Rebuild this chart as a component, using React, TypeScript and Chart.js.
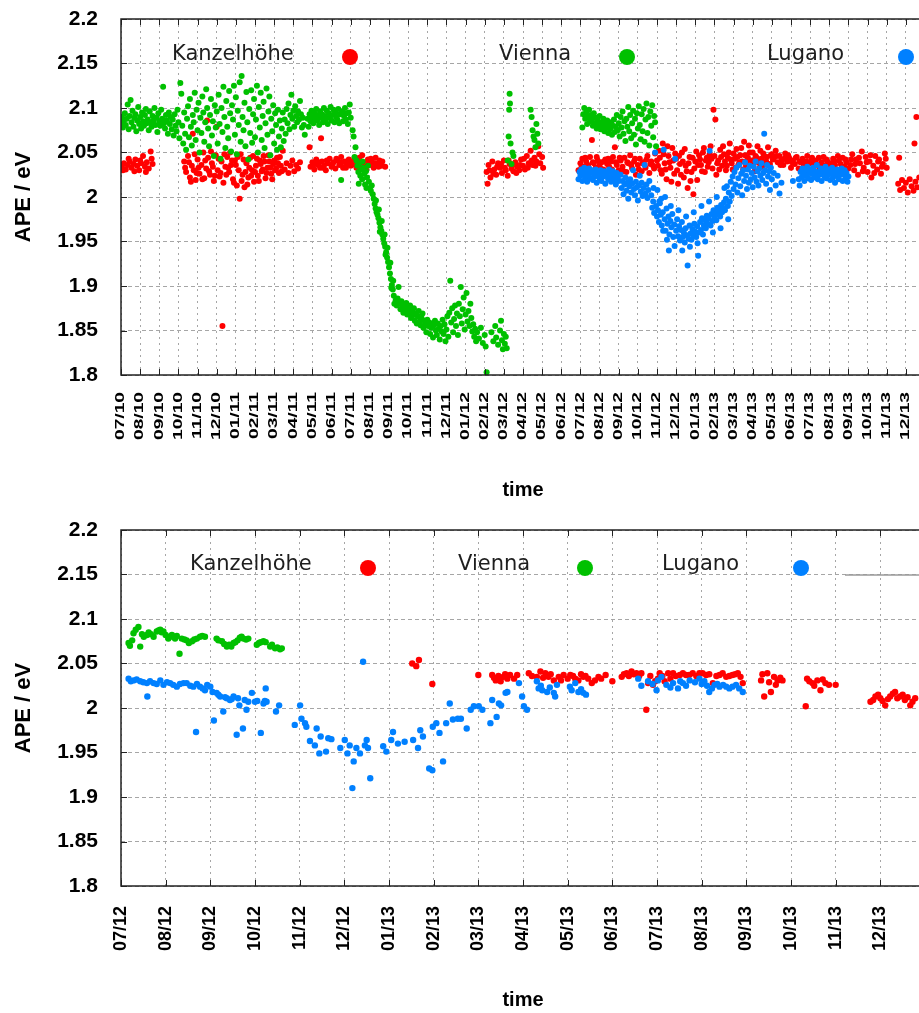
import React, { useEffect, useRef } from 'react';
import { Chart, registerables } from 'chart.js';

Chart.register(...registerables);

type Pt = [number, number];

// Month tick labels; x values are months counted from 07/10.
const monthLabels = [
  '07/10', '08/10', '09/10', '10/10', '11/10', '12/10',
  '01/11', '02/11', '03/11', '04/11', '05/11', '06/11', '07/11', '08/11', '09/11', '10/11', '11/11', '12/11',
  '01/12', '02/12', '03/12', '04/12', '05/12', '06/12', '07/12', '08/12', '09/12', '10/12', '11/12', '12/12',
  '01/13', '02/13', '03/13', '04/13', '05/13', '06/13', '07/13', '08/13', '09/13', '10/13', '11/13', '12/13',
];

const stationNames = ['Kanzelhöhe', 'Vienna', 'Lugano'];
const stationColors = ['#ff0000', '#00c000', '#0080ff'];

// Full record 07/10 – 12/13
const kanzelhoeheFull: Pt[] = [
  [0.05,2.034],[0.1,2.030],[0.15,2.038],[0.25,2.031],[0.35,2.036],[0.4,2.043],[0.45,2.040],[0.55,2.033],[0.65,2.037],[0.7,2.029],[0.75,2.042],[0.85,2.035],[0.95,2.030],[1.0,2.041],[1.05,2.038],[1.15,2.046],[1.25,2.034],[1.3,2.028],[1.35,2.039],[1.45,2.032],[1.55,2.051],[1.6,2.043],[1.65,2.037],
  [3.3,2.040],[3.35,2.033],[3.4,2.028],[3.5,2.046],[3.55,2.039],[3.6,2.022],[3.65,2.017],[3.7,2.035],[3.75,2.071],[3.8,2.030],[3.85,2.048],[3.9,2.019],[3.95,2.027],[4.0,2.042],[4.05,2.033],[4.1,2.026],[4.2,2.036],[4.25,2.020],[4.3,2.050],[4.35,2.021],[4.4,2.041],[4.45,2.032],[4.5,2.086],[4.55,2.044],[4.6,2.029],[4.65,2.025],[4.7,2.051],[4.75,2.038],[4.8,2.034],[4.85,2.018],[4.9,2.024],[4.95,2.047],[5.0,2.079],[5.05,2.030],[5.1,2.043],[5.15,2.023],[5.2,2.027],[5.25,2.040],[5.3,1.855],[5.35,2.016],[5.4,2.048],[5.45,2.034],[5.5,2.025],
  [5.55,2.045],[5.6,2.033],[5.65,2.028],[5.7,2.050],[5.75,2.036],[5.8,2.041],[5.85,2.020],[5.9,2.016],[5.95,2.041],[6.0,2.036],[6.05,2.013],[6.1,2.045],[6.15,2.030],[6.2,1.998],[6.25,2.048],[6.3,2.018],[6.35,2.025],[6.4,2.042],[6.45,2.011],[6.5,2.028],[6.55,2.038],[6.6,2.014],[6.65,2.022],[6.7,2.033],[6.75,2.044],[6.8,2.024],[6.85,2.030],[6.9,2.046],[6.95,2.017],
  [7.0,2.028],[7.05,2.035],[7.1,2.043],[7.15,2.024],[7.2,2.018],[7.25,2.041],[7.3,2.037],[7.35,2.029],[7.4,2.031],[7.45,2.046],[7.5,2.040],[7.55,2.021],[7.6,2.027],[7.65,2.033],[7.7,2.047],[7.75,2.040],[7.8,2.033],[7.85,2.026],[7.9,2.020],[7.95,2.037],[8.0,2.041],[8.05,2.030],[8.1,2.032],[8.15,2.044],[8.2,2.038],[8.25,2.027],[8.3,2.045],[8.35,2.035],[8.4,2.029],[8.45,2.052],
  [8.55,2.031],[8.65,2.038],[8.75,2.027],[8.85,2.035],[8.95,2.041],[9.05,2.029],[9.15,2.036],[9.25,2.032],[9.35,2.039],
  [9.85,2.056],[9.9,2.034],[10.0,2.039],[10.05,2.036],[10.1,2.031],[10.2,2.042],[10.25,2.040],[10.3,2.036],[10.4,2.033],[10.45,2.066],[10.5,2.040],[10.55,2.033],[10.6,2.035],[10.7,2.030],[10.75,2.041],[10.8,2.038],[10.9,2.043],[11.0,2.034],[11.05,2.037],[11.1,2.039],[11.2,2.032],[11.25,2.043],[11.3,2.041],[11.4,2.036],[11.5,2.045],[11.55,2.039],[11.6,2.033],[11.7,2.040],[11.75,2.033],[11.8,2.037],[11.9,2.042],[12.0,2.035],
  [12.05,2.040],[12.1,2.039],[12.2,2.044],[12.25,2.036],[12.3,2.033],[12.4,2.041],[12.45,2.044],[12.5,2.036],[12.6,2.047],[12.65,2.035],[12.7,2.038],[12.8,2.031],[12.85,2.039],[12.9,2.042],[13.0,2.036],[13.05,2.043],[13.1,2.040],[13.2,2.033],[13.25,2.038],[13.3,2.044],[13.4,2.037],[13.45,2.034],[13.5,2.041],[13.6,2.035],[13.65,2.040],[13.8,2.034],
  [19.1,2.028],[19.15,2.015],[19.2,2.036],[19.25,2.030],[19.3,2.022],[19.4,2.040],[19.45,2.026],[19.5,2.031],[19.6,2.025],[19.65,2.034],[19.7,2.038],[19.8,2.033],[19.85,2.037],[19.9,2.027],[20.0,2.041],[20.05,2.033],[20.1,2.030],[20.2,2.024],[20.25,2.041],[20.3,2.037],[20.4,2.032],[20.45,2.036],[20.5,2.029],[20.6,2.039],[20.65,2.027],[20.7,2.034],[20.8,2.030],[20.85,2.036],[20.9,2.042],[21.0,2.035],[21.05,2.043],[21.1,2.031],[21.2,2.046],[21.25,2.033],[21.3,2.038],[21.4,2.052],[21.45,2.041],[21.5,2.036],[21.6,2.044],[21.65,2.035],[21.7,2.040],[21.8,2.057],[21.85,2.048],[21.9,2.038],[22.0,2.045],[22.05,2.033],
  [23.9,2.030],[24.0,2.038],[24.05,2.033],[24.1,2.043],[24.2,2.034],[24.25,2.044],[24.3,2.040],[24.4,2.036],[24.45,2.032],[24.5,2.045],[24.6,2.064],[24.65,2.039],[24.7,2.038],[24.8,2.033],[24.85,2.045],[24.9,2.041],[25.0,2.036],[25.05,2.032],[25.1,2.039],[25.2,2.031],[25.25,2.040],[25.3,2.042],[25.4,2.037],[25.45,2.043],[25.5,2.034],[25.6,2.040],[25.65,2.031],[25.7,2.045],[25.8,2.056],[25.85,2.039],[25.9,2.036],[26.0,2.030],[26.05,2.044],[26.1,2.041],[26.2,2.034],[26.25,2.029],[26.3,2.044],[26.4,2.028],[26.45,2.039],[26.5,2.038],[26.6,2.047],[26.65,2.036],[26.7,2.032],[26.8,2.040],[26.85,2.043],[26.9,2.025],[27.0,2.036],[27.05,2.031],[27.1,2.043],[27.2,2.029],[27.25,2.038],[27.3,2.039],[27.4,2.033],[27.45,2.042],[27.5,2.046],[27.6,2.027],[27.65,2.037],[27.7,2.040],[27.8,2.035],[27.85,2.032],[27.9,2.049],
  [28.0,2.041],[28.05,2.035],[28.1,2.052],[28.15,2.044],[28.2,2.030],[28.25,2.026],[28.3,2.060],[28.35,2.048],[28.4,2.038],[28.45,2.031],[28.5,2.020],[28.55,2.057],[28.6,2.046],[28.65,2.039],[28.7,2.033],[28.75,2.017],[28.8,2.055],[28.85,2.041],[28.9,2.026],[28.95,2.049],[29.0,2.043],[29.05,2.030],[29.1,2.015],[29.15,2.046],[29.2,2.037],[29.25,2.025],[29.3,2.050],[29.35,2.040],[29.4,2.022],[29.45,2.054],[29.5,2.035],[29.55,2.029],[29.6,2.010],[29.65,2.038],[29.7,2.045],[29.75,2.018],[29.8,2.028],[29.85,2.044],[29.9,2.003],[29.95,2.032],[30.0,2.040],[30.05,2.051],[30.1,2.019],[30.15,2.036],[30.2,2.047],
  [30.25,2.042],[30.3,2.036],[30.35,2.029],[30.4,2.050],[30.45,2.055],[30.5,2.028],[30.55,2.041],[30.6,2.044],[30.65,2.034],[30.7,2.039],[30.75,2.048],[30.8,2.057],[30.85,2.043],[30.9,2.032],[30.95,2.098],[31.0,2.046],[31.05,2.087],[31.1,2.025],[31.15,2.038],[31.2,2.041],[31.25,2.031],[31.3,2.053],[31.35,2.045],[31.4,2.035],[31.45,2.057],[31.5,2.048],[31.55,2.040],[31.6,2.030],[31.65,2.035],[31.7,2.044],[31.75,2.050],[31.8,2.060],[31.85,2.042],[31.9,2.038],[31.95,2.031],[32.0,2.049],
  [32.05,2.043],[32.1,2.033],[32.15,2.054],[32.2,2.045],[32.25,2.036],[32.3,2.039],[32.35,2.047],[32.4,2.055],[32.45,2.040],[32.5,2.031],[32.55,2.062],[32.6,2.047],[32.65,2.035],[32.7,2.041],[32.75,2.044],[32.8,2.058],[32.85,2.050],[32.9,2.036],[32.95,2.041],[33.0,2.050],[33.05,2.038],[33.1,2.029],[33.15,2.046],[33.2,2.044],[33.25,2.057],[33.3,2.039],[33.35,2.033],[33.4,2.052],[33.45,2.043],[33.5,2.034],[33.55,2.049],[33.6,2.046],[33.65,2.038],[33.7,2.040],[33.75,2.045],[33.8,2.056],[33.85,2.035],[33.9,2.037],[33.95,2.047],
  [34.0,2.048],[34.05,2.042],[34.1,2.043],[34.2,2.052],[34.25,2.046],[34.3,2.039],[34.4,2.046],[34.45,2.036],[34.5,2.041],[34.6,2.036],[34.65,2.043],[34.7,2.049],[34.8,2.040],[34.85,2.047],[34.9,2.044],[35.0,2.033],[35.05,2.039],[35.1,2.041],[35.2,2.037],[35.25,2.044],[35.3,2.045],[35.4,2.032],[35.45,2.040],[35.5,2.039],[35.6,2.043],[35.65,2.037],[35.7,2.035],[35.8,2.040],[35.85,2.046],[35.9,2.030],[36.0,2.038],[36.05,2.041],[36.1,2.044],[36.2,2.034],[36.25,2.039],[36.3,2.041],[36.4,2.036],[36.45,2.044],[36.5,2.031],[36.6,2.039],[36.65,2.034],[36.7,2.045],[36.8,2.035],[36.85,2.042],[36.9,2.040],[37.0,2.033],[37.05,2.037],[37.1,2.038],[37.2,2.043],[37.25,2.040],[37.3,2.036],[37.4,2.030],[37.45,2.046],[37.5,2.041],[37.6,2.037],[37.65,2.033],[37.7,2.044],[37.8,2.034],[37.85,2.042],[37.9,2.039],[38.0,2.032],
  [38.1,2.036],[38.15,2.042],[38.2,2.048],[38.3,2.030],[38.35,2.037],[38.4,2.042],[38.5,2.025],[38.55,2.044],[38.6,2.038],[38.7,2.051],[38.75,2.029],[38.8,2.033],[38.9,2.045],[38.95,2.039],[39.0,2.028],[39.1,2.040],[39.15,2.047],[39.2,2.022],[39.3,2.035],[39.35,2.027],[39.4,2.046],[39.5,2.031],[39.55,2.040],[39.6,2.042],[39.7,2.026],[39.75,2.034],[39.8,2.037],[39.9,2.049],[39.95,2.043],[40.0,2.033],
  [40.6,2.015],[40.65,2.044],[40.7,2.008],[40.8,2.019],[40.9,2.010],[41.0,2.016],[41.1,2.005],[41.2,2.020],[41.3,2.012],[41.4,2.007],[41.45,2.060],[41.5,2.017],[41.55,2.090],[41.6,2.011],[41.7,2.022],
];

const viennaFull: Pt[] = [
  [0.0,2.083],[0.05,2.090],[0.1,2.078],[0.15,2.086],[0.2,2.094],[0.25,2.081],[0.3,2.088],[0.35,2.104],[0.4,2.076],[0.45,2.091],[0.5,2.109],[0.55,2.084],[0.6,2.097],[0.65,2.079],[0.7,2.089],[0.75,2.093],[0.8,2.074],[0.85,2.086],[0.9,2.101],[0.95,2.082],[1.0,2.090],[1.05,2.077],[1.1,2.095],[1.15,2.085],[1.2,2.080],[1.25,2.092],[1.3,2.099],[1.35,2.083],[1.4,2.087],[1.45,2.075],[1.5,2.096],[1.55,2.084],[1.6,2.079],[1.65,2.091],[1.7,2.086],[1.75,2.100],[1.8,2.081],[1.85,2.089],[1.9,2.073],[1.95,2.094],[2.0,2.085],[2.05,2.080],[2.1,2.098],[2.15,2.088],[2.2,2.124],[2.25,2.083],[2.3,2.077],[2.35,2.092],[2.4,2.086],[2.45,2.071],[2.5,2.095],[2.55,2.082],[2.6,2.090],[2.65,2.076],[2.7,2.087],[2.75,2.069],[2.8,2.093],[2.85,2.080],[2.9,2.074],[2.95,2.098],[3.0,2.084],[3.05,2.066],[3.1,2.128],[3.15,2.116],
  [3.2,2.080],[3.25,2.060],[3.3,2.095],[3.35,2.071],[3.4,2.053],[3.45,2.088],[3.5,2.102],[3.55,2.067],[3.6,2.110],[3.65,2.079],[3.7,2.058],[3.75,2.092],[3.8,2.084],[3.85,2.117],[3.9,2.064],[3.95,2.098],[4.0,2.075],[4.05,2.106],[4.1,2.050],[4.15,2.089],[4.2,2.072],[4.25,2.113],[4.3,2.095],[4.35,2.062],[4.4,2.084],[4.45,2.121],[4.5,2.100],[4.55,2.077],[4.6,2.057],[4.65,2.092],[4.7,2.110],[4.75,2.069],[4.8,2.085],[4.85,2.046],[4.9,2.103],[4.95,2.078],
  [5.0,2.096],[5.05,2.060],[5.1,2.115],[5.15,2.082],[5.2,2.043],[5.25,2.100],[5.3,2.073],[5.35,2.124],[5.4,2.090],[5.45,2.055],[5.5,2.108],[5.55,2.079],[5.6,2.066],[5.65,2.119],[5.7,2.094],[5.75,2.051],[5.8,2.103],[5.85,2.087],[5.9,2.125],[5.95,2.070],[6.0,2.112],[6.05,2.048],[6.1,2.097],[6.15,2.081],[6.2,2.129],[6.25,2.062],[6.3,2.136],[6.35,2.090],[6.4,2.075],[6.45,2.106],[6.5,2.057],[6.55,2.118],[6.6,2.084],[6.65,2.042],[6.7,2.099],[6.75,2.072],[6.8,2.120],[6.85,2.061],[6.9,2.093],[6.95,2.110],
  [7.0,2.067],[7.05,2.087],[7.1,2.125],[7.15,2.050],[7.2,2.101],[7.25,2.078],[7.3,2.117],[7.35,2.064],[7.4,2.091],[7.45,2.107],[7.5,2.055],[7.55,2.083],[7.6,2.122],[7.65,2.070],[7.7,2.096],[7.75,2.113],[7.8,2.047],[7.85,2.088],[7.9,2.074],[7.95,2.103],[8.0,2.060],[8.05,2.094],[8.1,2.081],[8.15,2.053],[8.2,2.098],[8.25,2.068],[8.3,2.086],[8.35,2.056],[8.4,2.077],[8.45,2.095],[8.5,2.063],[8.55,2.087],[8.6,2.071],[8.65,2.099],
  [8.7,2.083],[8.75,2.105],[8.8,2.076],[8.85,2.092],[8.9,2.115],[8.95,2.088],[9.0,2.097],[9.05,2.079],[9.1,2.102],[9.15,2.091],[9.2,2.084],[9.25,2.096],[9.3,2.087],[9.35,2.108],[9.4,2.093],[9.45,2.078],[9.5,2.089],[9.55,2.081],[9.6,2.070],
  [9.75,2.088],[9.8,2.079],[9.85,2.093],[9.9,2.085],[9.95,2.097],[10.0,2.090],[10.05,2.083],[10.1,2.094],[10.15,2.088],[10.2,2.099],[10.25,2.086],[10.3,2.092],[10.35,2.081],[10.4,2.096],[10.45,2.089],[10.5,2.093],[10.55,2.084],[10.6,2.100],[10.65,2.091],[10.7,2.087],[10.75,2.097],[10.8,2.082],[10.85,2.094],[10.9,2.089],[10.95,2.101],[11.0,2.086],[11.05,2.092],[11.1,2.098],[11.15,2.084],[11.2,2.095],[11.25,2.090],[11.3,2.087],[11.35,2.099],[11.4,2.083],[11.45,2.093],[11.5,2.019],[11.55,2.096],[11.6,2.085],[11.65,2.091],[11.7,2.100],[11.75,2.087],[11.8,2.094],[11.85,2.082],[11.9,2.095],[11.95,2.104],[12.0,2.089],
  [12.1,2.075],[12.15,2.068],[12.2,2.045],[12.25,2.056],[12.3,2.041],[12.35,2.035],[12.4,2.028],[12.42,2.015],[12.45,2.038],[12.5,2.024],[12.55,2.031],[12.6,2.020],[12.62,2.040],[12.65,2.033],[12.7,2.026],[12.75,2.014],[12.8,2.029],[12.82,2.010],[12.85,2.022],[12.9,2.035],[12.95,2.017],[13.0,2.010],[13.05,2.007],[13.1,2.013],[13.15,2.003],[13.2,1.998],
  [13.25,1.992],[13.3,1.987],[13.32,1.996],[13.35,1.983],[13.4,1.980],[13.45,1.976],[13.47,1.986],[13.5,1.971],[13.52,1.961],[13.55,1.966],[13.6,1.962],[13.62,1.973],[13.65,1.958],[13.7,1.953],[13.75,1.948],[13.77,1.958],[13.8,1.944],[13.82,1.935],[13.85,1.938],[13.9,1.932],[13.92,1.943],[13.95,1.927],[14.0,1.921],[14.05,1.914],[14.07,1.926],[14.1,1.908],[14.12,1.898],[14.15,1.901],[14.2,1.896],[14.22,1.906],[14.25,1.889],[14.28,1.880],
  [14.35,1.884],[14.4,1.878],[14.45,1.886],[14.5,1.899],[14.55,1.880],[14.6,1.874],[14.65,1.883],[14.7,1.877],[14.75,1.870],[14.8,1.879],[14.85,1.873],[14.9,1.881],[14.95,1.868],[15.0,1.875],[15.05,1.870],[15.1,1.878],[15.15,1.864],[15.2,1.872],[15.25,1.867],[15.3,1.875],[15.35,1.861],[15.4,1.869],[15.45,1.858],[15.5,1.866],[15.55,1.872],[15.6,1.860],[15.65,1.856],[15.7,1.864],[15.75,1.869],[15.8,1.853],[15.85,1.861],[15.9,1.857],[15.95,1.848],[16.0,1.862],[16.05,1.855],[16.1,1.859],[16.15,1.846],[16.2,1.853],[16.25,1.858],[16.3,1.842],
  [16.35,1.856],[16.4,1.861],[16.45,1.850],[16.5,1.845],[16.55,1.858],[16.6,1.852],[16.65,1.840],[16.7,1.855],[16.75,1.849],[16.8,1.862],[16.85,1.846],[16.9,1.857],[16.95,1.838],[17.0,1.851],[17.05,1.866],[17.1,1.843],[17.15,1.870],[17.2,1.906],[17.25,1.859],[17.3,1.875],[17.35,1.848],[17.4,1.863],[17.45,1.878],[17.5,1.855],[17.55,1.869],[17.6,1.845],
  [17.65,1.880],[17.7,1.866],[17.75,1.899],[17.8,1.858],[17.85,1.874],[17.9,1.887],[17.95,1.851],[18.0,1.868],[18.05,1.892],[18.1,1.860],[18.15,1.872],[18.2,1.855],[18.25,1.880],[18.3,1.864],[18.35,1.849],[18.4,1.857],[18.45,1.843],[18.5,1.852],[18.55,1.838],[18.6,1.848],[18.7,1.841],[18.8,1.853],[18.9,1.836],[19.0,1.845],[19.05,1.832],[19.1,1.803],[19.35,1.848],[19.45,1.838],[19.55,1.855],[19.6,1.842],[19.7,1.834],[19.8,1.850],[19.85,1.861],[19.9,1.839],[19.95,1.829],[20.0,1.846],[20.05,1.835],[20.1,1.843],[20.15,1.830],
  [20.2,2.041],[20.25,2.068],[20.28,2.098],[20.3,2.116],[20.32,2.105],[20.35,2.060],[20.4,2.037],[20.45,2.050],[20.5,2.046],
  [21.4,2.098],[21.45,2.090],[21.5,2.075],[21.55,2.068],[21.6,2.064],[21.65,2.056],[21.7,2.082],[21.75,2.071],[21.8,2.060],
  [24.1,2.078],[24.15,2.093],[24.2,2.100],[24.25,2.088],[24.3,2.095],[24.35,2.082],[24.4,2.090],[24.45,2.098],[24.5,2.085],[24.55,2.092],[24.6,2.087],[24.65,2.080],[24.7,2.094],[24.75,2.083],[24.8,2.089],[24.85,2.077],[24.9,2.086],[24.95,2.081],[25.0,2.091],[25.05,2.076],[25.1,2.084],[25.15,2.079],[25.2,2.088],[25.25,2.074],[25.3,2.083],[25.35,2.078],[25.4,2.086],[25.45,2.072],[25.5,2.081],[25.55,2.076],[25.6,2.084],[25.65,2.070],[25.7,2.080],[25.75,2.087],[25.8,2.073],[25.85,2.079],[25.9,2.092],[25.95,2.075],
  [26.0,2.083],[26.05,2.068],[26.1,2.090],[26.15,2.078],[26.2,2.096],[26.25,2.071],[26.3,2.085],[26.35,2.063],[26.4,2.088],[26.45,2.079],[26.5,2.101],[26.55,2.074],[26.6,2.092],[26.65,2.066],[26.7,2.083],[26.75,2.097],[26.8,2.070],[26.85,2.088],[26.9,2.059],[26.95,2.094],[27.0,2.077],[27.05,2.102],[27.1,2.081],[27.15,2.065],[27.2,2.093],[27.25,2.074],[27.3,2.099],[27.35,2.062],[27.4,2.087],[27.45,2.105],[27.5,2.072],[27.55,2.090],[27.6,2.058],[27.65,2.096],[27.7,2.080],[27.75,2.103],[27.8,2.067],[27.85,2.091],[27.9,2.084],[27.95,2.057],
];

const luganoFull: Pt[] = [
  [23.9,2.020],[23.95,2.028],[24.0,2.024],[24.05,2.031],[24.1,2.018],[24.15,2.026],[24.2,2.033],[24.25,2.022],[24.3,2.029],[24.35,2.017],[24.4,2.025],[24.45,2.032],[24.5,2.021],[24.55,2.027],[24.6,2.030],[24.65,2.019],[24.7,2.026],[24.75,2.023],[24.8,2.031],[24.85,2.016],[24.9,2.025],[24.95,2.028],[25.0,2.021],[25.05,2.030],[25.1,2.018],[25.15,2.026],[25.2,2.023],[25.25,2.029],[25.3,2.015],[25.35,2.024],[25.4,2.027],[25.45,2.020],[25.5,2.031],[25.55,2.022],[25.6,2.017],[25.65,2.026],[25.7,2.029],[25.75,2.019],[25.8,2.024],[25.85,2.014],[25.9,2.027],[25.95,2.021],[26.0,2.018],
  [26.1,2.025],[26.15,2.010],[26.2,2.018],[26.25,2.003],[26.3,2.014],[26.35,2.022],[26.4,2.007],[26.45,2.016],[26.5,1.998],[26.55,2.012],[26.6,2.020],[26.65,2.005],[26.7,2.015],[26.75,2.030],[26.8,2.009],[26.85,2.002],[26.9,2.017],[26.95,2.011],[27.0,1.996],[27.05,2.013],[27.1,2.024],[27.15,2.006],[27.2,2.016],[27.25,2.001],[27.3,2.010],[27.35,2.036],[27.4,2.004],[27.45,2.014],[27.5,1.999],[27.55,2.008],[27.6,2.018],
  [27.7,2.002],[27.75,1.988],[27.8,1.995],[27.82,2.010],[27.85,1.982],[27.9,2.050],[27.95,1.990],[28.0,1.978],[28.02,2.008],[28.05,1.985],[28.1,1.972],[28.12,1.995],[28.15,1.993],[28.2,1.980],[28.22,1.998],[28.25,1.968],[28.3,1.983],[28.32,1.962],[28.35,2.053],[28.4,1.975],[28.42,2.000],[28.45,1.962],[28.5,1.987],[28.52,1.952],[28.55,1.970],[28.6,1.978],[28.62,1.940],[28.65,1.958],[28.7,1.973],[28.72,1.990],[28.75,1.966],[28.8,1.981],[28.85,1.955],[28.9,1.969],[28.92,1.945],[28.95,2.043],[29.0,1.962],[29.05,1.975],[29.1,1.956],[29.12,1.985],[29.15,1.967],[29.2,1.951],[29.25,1.963],[29.3,1.972],[29.32,1.940],[29.35,1.955],[29.4,1.960],[29.45,1.949],[29.5,1.965],[29.52,1.978],[29.55,1.957],[29.6,1.923],[29.65,1.953],[29.7,1.968],[29.72,1.944],[29.75,1.959],[29.8,1.952],[29.85,1.964],[29.9,1.957],[29.92,1.983],[29.95,1.970],[30.0,1.961],[30.05,1.955],[30.1,1.967],[30.12,1.948],[30.15,1.934],[30.2,1.960],
  [30.25,1.972],[30.3,1.963],[30.32,1.990],[30.35,1.976],[30.4,1.958],[30.45,1.968],[30.5,1.974],[30.52,1.950],[30.55,1.965],[30.6,1.979],[30.65,1.970],[30.7,1.976],[30.72,1.995],[30.75,2.052],[30.8,1.968],[30.85,1.981],[30.9,1.973],[30.92,1.960],[30.95,1.985],[31.0,1.977],[31.05,1.982],[31.1,1.974],[31.12,2.000],[31.15,1.988],[31.2,1.980],[31.25,1.985],[31.3,1.978],[31.32,1.965],[31.35,1.991],[31.4,1.983],[31.45,1.988],[31.5,1.994],[31.52,2.010],[31.55,1.985],[31.6,1.998],[31.65,2.012],[31.7,1.990],[31.72,1.975],[31.75,2.005],[31.8,1.995],[31.85,2.017],[31.9,2.001],[31.95,2.023],[32.0,2.009],
  [32.05,2.028],[32.1,2.014],[32.15,2.033],[32.2,2.005],[32.25,2.021],[32.3,2.036],[32.35,2.012],[32.4,2.026],[32.45,2.002],[32.5,2.030],[32.55,2.018],[32.6,2.039],[32.65,2.024],[32.7,2.009],[32.75,2.031],[32.8,2.016],[32.85,2.035],[32.9,2.020],[32.95,2.027],[33.0,2.011],[33.05,2.034],[33.1,2.022],[33.15,2.040],[33.2,2.017],[33.25,2.029],[33.3,2.013],[33.35,2.032],[33.4,2.024],[33.45,2.038],[33.5,2.019],[33.55,2.027],[33.6,2.071],[33.65,2.030],[33.7,2.015],[33.75,2.036],[33.8,2.023],[33.85,2.029],[33.9,2.008],[33.95,2.033],[34.0,2.020],[34.1,2.027],[34.2,2.013],[34.3,2.024],[34.4,2.004],[34.5,2.016],[35.1,2.018],
  [35.4,2.020],[35.45,2.013],[35.5,2.028],[35.55,2.022],[35.6,2.032],[35.65,2.025],[35.7,2.018],[35.75,2.030],[35.8,2.024],[35.85,2.034],[35.9,2.021],[35.95,2.027],[36.0,2.031],[36.05,2.019],[36.1,2.026],[36.15,2.033],[36.2,2.022],[36.25,2.029],[36.3,2.024],[36.35,2.036],[36.4,2.020],[36.45,2.028],[36.5,2.025],[36.55,2.032],[36.6,2.018],[36.65,2.027],[36.7,2.030],[36.75,2.023],[36.8,2.034],[36.85,2.021],[36.9,2.028],[36.95,2.025],[37.0,2.031],[37.05,2.019],[37.1,2.026],[37.15,2.033],[37.2,2.022],[37.25,2.029],[37.3,2.016],[37.35,2.027],[37.4,2.031],[37.45,2.024],[37.5,2.020],[37.55,2.028],[37.6,2.025],[37.65,2.032],[37.7,2.018],[37.75,2.026],[37.8,2.030],[37.85,2.022],[37.9,2.027],[37.95,2.017],[38.0,2.023],
];

// Recent period 07/12 – 12/13
const kanzelhoeheRecent: Pt[] = [
  [30.52,2.050],[30.61,2.047],[30.67,2.054],[30.97,2.027],
  [32.00,2.037],[32.31,2.037],[32.35,2.034],[32.39,2.031],[32.45,2.036],[32.50,2.030],[32.56,2.035],[32.60,2.038],[32.65,2.033],[32.71,2.037],[32.80,2.033],[32.87,2.037],[33.13,2.039],[33.20,2.036],[33.31,2.035],[33.39,2.041],[33.45,2.034],[33.50,2.039],[33.57,2.035],[33.62,2.038],[33.69,2.031],[33.80,2.035],[33.85,2.031],[33.91,2.037],[34.00,2.033],[34.06,2.037],[34.12,2.036],[34.17,2.033],[34.24,2.031],[34.30,2.038],[34.35,2.035],[34.40,2.036],[34.46,2.033],[34.54,2.028],[34.61,2.031],[34.69,2.035],[34.75,2.033],[34.85,2.037],[35.00,2.030],
  [35.21,2.035],[35.26,2.038],[35.32,2.039],[35.37,2.036],[35.43,2.041],[35.48,2.038],[35.54,2.039],[35.60,2.036],[35.65,2.039],[35.76,1.998],[35.80,2.028],[35.85,2.036],[35.91,2.026],[35.96,2.030],[36.02,2.033],[36.06,2.039],[36.12,2.036],[36.17,2.030],[36.25,2.039],[36.30,2.033],[36.36,2.039],[36.42,2.036],[36.51,2.037],[36.58,2.039],[36.65,2.037],[36.72,2.037],[36.80,2.039],[36.88,2.036],[36.95,2.039],[37.02,2.039],[37.10,2.037],[37.17,2.038],[37.25,2.028],[37.33,2.036],[37.40,2.037],[37.47,2.039],[37.55,2.035],[37.62,2.036],[37.69,2.037],[37.75,2.038],[37.81,2.039],[37.87,2.035],[37.92,2.028],
  [38.33,2.031],[38.36,2.038],[38.40,2.013],[38.47,2.039],[38.51,2.029],[38.55,2.018],[38.62,2.035],[38.66,2.026],[38.70,2.031],[38.76,2.034],[38.81,2.031],
  [39.33,2.002],[39.36,2.033],[39.41,2.030],[39.48,2.028],[39.52,2.025],[39.59,2.031],[39.66,2.020],[39.71,2.032],[39.77,2.028],[39.85,2.026],[40.00,2.026],
  [40.78,2.007],[40.84,2.009],[40.89,2.013],[40.95,2.015],[41.00,2.011],[41.05,2.008],[41.11,2.003],[41.17,2.010],[41.22,2.013],[41.28,2.016],[41.33,2.018],[41.38,2.011],[41.44,2.013],[41.50,2.015],[41.55,2.009],[41.61,2.012],[41.67,2.003],[41.72,2.007],[41.78,2.011],
];

const viennaRecent: Pt[] = [
  [24.17,2.073],[24.20,2.070],[24.25,2.076],[24.28,2.084],[24.33,2.088],[24.39,2.091],[24.43,2.069],[24.47,2.083],[24.51,2.080],[24.58,2.082],[24.62,2.085],[24.67,2.083],[24.73,2.080],[24.80,2.086],[24.84,2.087],[24.88,2.088],[24.91,2.085],[24.95,2.086],[25.00,2.082],[25.06,2.078],[25.10,2.080],[25.14,2.082],[25.21,2.078],[25.25,2.081],[25.31,2.061],[25.36,2.078],[25.42,2.077],[25.47,2.076],[25.52,2.073],[25.59,2.075],[25.64,2.077],[25.70,2.078],[25.77,2.080],[25.82,2.081],[25.88,2.080],
  [26.14,2.078],[26.18,2.076],[26.26,2.075],[26.31,2.072],[26.37,2.069],[26.42,2.071],[26.47,2.069],[26.52,2.073],[26.56,2.074],[26.61,2.076],[26.66,2.079],[26.70,2.080],[26.74,2.078],[26.80,2.077],[26.85,2.078],[27.04,2.071],[27.09,2.073],[27.13,2.074],[27.19,2.075],[27.24,2.074],[27.34,2.069],[27.38,2.071],[27.45,2.067],[27.50,2.068],[27.56,2.066],[27.60,2.067],
];

const luganoRecent: Pt[] = [
  [24.17,2.033],[24.22,2.030],[24.28,2.031],[24.35,2.032],[24.43,2.030],[24.50,2.029],[24.58,2.028],[24.59,2.013],[24.65,2.030],[24.73,2.028],[24.80,2.027],[24.88,2.031],[24.95,2.026],[25.03,2.029],[25.10,2.028],[25.17,2.026],[25.25,2.024],[25.32,2.027],[25.40,2.028],[25.47,2.028],[25.55,2.025],[25.62,2.024],[25.68,1.973],[25.70,2.027],[25.77,2.024],[25.83,2.022],[25.88,2.020],[25.93,2.026],[26.00,2.024],[26.05,2.018],[26.08,1.986],[26.14,2.017],[26.18,2.015],[26.22,2.013],[26.29,1.996],[26.33,2.012],[26.37,2.011],[26.44,2.009],[26.48,2.010],[26.52,2.013],[26.59,1.970],[26.62,2.011],[26.65,2.003],[26.73,1.977],[26.77,2.009],[26.81,1.998],[26.85,2.007],[26.93,2.017],[27.00,2.007],[27.05,2.008],[27.13,1.972],[27.19,2.005],[27.22,2.008],[27.24,2.022],[27.26,2.007],[27.47,1.996],[27.54,2.003],
  [27.89,1.981],[28.01,2.003],[28.04,1.988],[28.12,1.983],[28.15,1.979],[28.23,1.963],[28.34,1.958],[28.38,1.977],[28.44,1.949],[28.47,1.968],[28.59,1.951],[28.64,1.966],[28.71,1.965],
  [28.91,1.955],[29.01,1.964],[29.07,1.949],[29.12,1.958],[29.18,1.910],[29.21,1.940],[29.27,1.955],[29.35,1.949],[29.42,2.052],[29.46,1.958],[29.50,1.964],[29.53,1.955],[29.58,1.921],
  [29.87,1.957],[29.94,1.951],[30.05,1.964],[30.09,1.973],[30.20,1.960],[30.35,1.962],[30.54,1.964],[30.65,1.955],[30.70,1.975],[30.76,1.968],[30.90,1.932],[30.97,1.930],[30.98,1.979],[31.06,1.983],[31.13,1.972],[31.21,1.940],[31.28,1.983],[31.36,2.005],[31.43,1.987],[31.54,1.988],
  [31.61,1.988],[31.74,1.977],[31.83,1.998],[31.90,2.002],[32.01,2.002],[32.09,1.998],[32.27,1.983],[32.31,2.009],[32.41,1.990],[32.46,2.005],[32.51,2.003],[32.61,2.017],[32.65,2.018],[32.91,2.028],[32.98,2.013],[33.02,2.002],[33.09,1.998],
  [33.31,2.030],[33.35,2.022],[33.40,2.025],[33.43,2.020],[33.54,2.018],[33.60,2.023],[33.69,2.017],[33.72,2.013],[33.76,2.026],[34.05,2.024],[34.09,2.020],[34.17,2.028],[34.24,2.018],[34.30,2.021],[34.35,2.017],[34.41,2.015],
  [35.58,2.033],[35.65,2.025],[35.80,2.030],[35.90,2.027],[35.99,2.020],[36.02,2.031],[36.10,2.035],[36.21,2.026],[36.30,2.023],[36.36,2.028],[36.47,2.022],[36.52,2.030],[36.58,2.028],[36.65,2.025],[36.73,2.031],[36.85,2.029],[36.95,2.033],[37.00,2.027],[37.06,2.030],[37.12,2.025],[37.17,2.018],[37.23,2.022],[37.29,2.026],[37.35,2.027],[37.40,2.024],[37.48,2.026],[37.55,2.024],[37.62,2.022],[37.69,2.024],[37.77,2.026],[37.84,2.022],[37.92,2.018],
];

const FONT = "'Liberation Sans', Arial, Helvetica, sans-serif";
const LEGEND_FONT = "'DejaVu Sans', 'Liberation Sans', sans-serif";

type LegendItem = { label: string; textX: number; dotX: number; color: string };

type DecorOptions = {
  labelSize: number;
  labelStretch: number;
  labelGap: number;
  legend: LegendItem[];
  legendTextDy: number;
  legendDotDy: number;
  legendDotR: number;
  keyLine?: { x0: number; x1: number; dy: number };
};

// gnuplot-like frame: inward tick marks, solid frame, rotated month labels and an in-plot key.
const panelDecor = {
  id: 'panelDecor',
  afterDatasetsDraw(chart: any, _args: any, opts: DecorOptions) {
    const { ctx, chartArea } = chart;
    ctx.save();
    ctx.font = `21px ${LEGEND_FONT}`;
    ctx.textAlign = 'left';
    ctx.textBaseline = 'middle';
    for (const item of opts.legend) {
      ctx.fillStyle = '#1e1e1e';
      ctx.fillText(item.label, item.textX, chartArea.top + opts.legendTextDy);
      ctx.beginPath();
      ctx.arc(item.dotX, chartArea.top + opts.legendDotDy, opts.legendDotR, 0, Math.PI * 2);
      ctx.fillStyle = item.color;
      ctx.fill();
    }
    if (opts.keyLine) {
      ctx.strokeStyle = '#9a9a9a';
      ctx.lineWidth = 1.5;
      ctx.beginPath();
      ctx.moveTo(opts.keyLine.x0, chartArea.top + opts.keyLine.dy);
      ctx.lineTo(opts.keyLine.x1, chartArea.top + opts.keyLine.dy);
      ctx.stroke();
    }
    ctx.restore();
  },
  afterDraw(chart: any, _args: any, opts: DecorOptions) {
    const { ctx, chartArea } = chart;
    const xs = chart.scales.x;
    const ys = chart.scales.y;
    const tick = 6;
    ctx.save();
    ctx.strokeStyle = '#222';
    ctx.lineWidth = 1;
    ctx.beginPath();
    for (const t of xs.ticks) {
      const px = Math.round(xs.getPixelForValue(t.value)) + 0.5;
      ctx.moveTo(px, chartArea.bottom);
      ctx.lineTo(px, chartArea.bottom - tick);
      ctx.moveTo(px, chartArea.top);
      ctx.lineTo(px, chartArea.top + tick);
    }
    for (const t of ys.ticks) {
      const py = Math.round(ys.getPixelForValue(t.value)) + 0.5;
      ctx.moveTo(chartArea.left, py);
      ctx.lineTo(chartArea.left + tick, py);
    }
    ctx.stroke();
    ctx.lineWidth = 1.5;
    ctx.strokeRect(chartArea.left, chartArea.top, chartArea.right - chartArea.left, chartArea.bottom - chartArea.top);

    ctx.fillStyle = '#000';
    ctx.font = `bold ${opts.labelSize}px ${FONT}`;
    ctx.textAlign = 'right';
    ctx.textBaseline = 'middle';
    for (const t of xs.ticks) {
      if (!t.label) continue;
      const px = xs.getPixelForValue(t.value);
      ctx.save();
      ctx.translate(px, chartArea.bottom + opts.labelGap);
      ctx.rotate(-Math.PI / 2);
      ctx.scale(opts.labelStretch, 1);
      ctx.fillText(t.label, 0, 0);
      ctx.restore();
    }
    ctx.restore();
  },
};

type PanelProps = {
  top: number;
  height: number;
  padTop: number;
  xMin: number;
  xHeight: number;
  titleBottom: number;
  radius: number;
  series: Pt[][];
  decor: DecorOptions;
};

function ApePanel(p: PanelProps) {
  const ref = useRef<HTMLCanvasElement>(null);
  useEffect(() => {
    if (!ref.current) return;
    const datasets = p.series.map((pts, i) => ({
      label: stationNames[i],
      data: pts.map(([x, y]) => ({ x, y })),
      pointRadius: p.radius,
      pointBorderWidth: 0,
      pointBackgroundColor: stationColors[i],
      backgroundColor: stationColors[i],
      showLine: false,
      order: 3 - i,
    }));
    const gridColor = '#a6a6a6';
    const chart = new Chart(ref.current, {
      type: 'scatter',
      data: { datasets },
      plugins: [panelDecor],
      options: {
        animation: false,
        responsive: false,
        events: [],
        layout: { padding: { top: p.padTop, right: 15, left: 0, bottom: 0 } },
        plugins: {
          legend: { display: false },
          tooltip: { enabled: false },
          panelDecor: p.decor,
        } as any,
        scales: {
          x: {
            type: 'linear',
            min: p.xMin,
            max: 42,
            ticks: {
              display: false,
              stepSize: 1,
              autoSkip: false,
              callback: (v: any) => monthLabels[Math.round(Number(v))] ?? '',
            },
            grid: { color: gridColor, lineWidth: 1, drawTicks: false },
            border: { display: false, dash: [2, 4] },
            title: {
              display: true,
              text: 'time',
              color: '#000',
              font: { family: FONT, weight: 'bold', size: 20 },
              padding: { top: 0, bottom: p.titleBottom },
            },
            afterFit: (s: any) => {
              s.height = p.xHeight;
            },
          },
          y: {
            min: 1.8,
            max: 2.2,
            ticks: {
              stepSize: 0.05,
              color: '#000',
              padding: 0,
              font: { family: FONT, weight: 'bold', size: 21 },
              callback: (v: any) => String(Math.round(Number(v) * 100) / 100),
            },
            grid: {
              color: gridColor,
              lineWidth: 1,
              drawTicks: true,
              tickLength: 23,
              tickColor: 'rgba(0,0,0,0)',
            },
            border: { display: false, dash: [4, 3] },
            title: {
              display: true,
              text: 'APE / eV',
              color: '#000',
              font: { family: FONT, weight: 'bold', size: 22 },
              padding: { top: 11, bottom: 0 },
            },
            afterFit: (s: any) => {
              s.width = 121;
            },
          },
        },
      } as any,
    });
    return () => chart.destroy();
  }, []);
  return (
    <div style={{ position: 'absolute', left: 0, top: p.top, width: 940, height: p.height }}>
      <canvas ref={ref} width={940} height={p.height} style={{ display: 'block' }} />
    </div>
  );
}

export default function App() {
  return (
    <div
      style={{
        position: 'fixed',
        left: 0,
        top: 0,
        width: 919,
        height: 1013,
        overflow: 'hidden',
        background: '#fff',
      }}
    >
      <ApePanel
        top={0}
        height={505}
        padTop={19}
        xMin={0}
        xHeight={130}
        titleBottom={3}
        radius={3}
        series={[kanzelhoeheFull, viennaFull, luganoFull]}
        decor={{
          labelSize: 12,
          labelStretch: 1.6,
          labelGap: 17,
          legend: [
            { label: stationNames[0], textX: 172, dotX: 350, color: stationColors[0] },
            { label: stationNames[1], textX: 499, dotX: 627, color: stationColors[1] },
            { label: stationNames[2], textX: 767, dotX: 906, color: stationColors[2] },
          ],
          legendTextDy: 36,
          legendDotDy: 38,
          legendDotR: 8,
        }}
      />
      <ApePanel
        top={505}
        height={508}
        padTop={25}
        xMin={24}
        xHeight={127}
        titleBottom={1}
        radius={3.2}
        series={[kanzelhoeheRecent, viennaRecent, luganoRecent]}
        decor={{
          labelSize: 18,
          labelStretch: 1,
          labelGap: 20,
          legend: [
            { label: stationNames[0], textX: 190, dotX: 368, color: stationColors[0] },
            { label: stationNames[1], textX: 458, dotX: 585, color: stationColors[1] },
            { label: stationNames[2], textX: 662, dotX: 801, color: stationColors[2] },
          ],
          legendTextDy: 35,
          legendDotDy: 38,
          legendDotR: 8,
          keyLine: { x0: 845, x1: 935, dy: 45 },
        }}
      />
    </div>
  );
}
